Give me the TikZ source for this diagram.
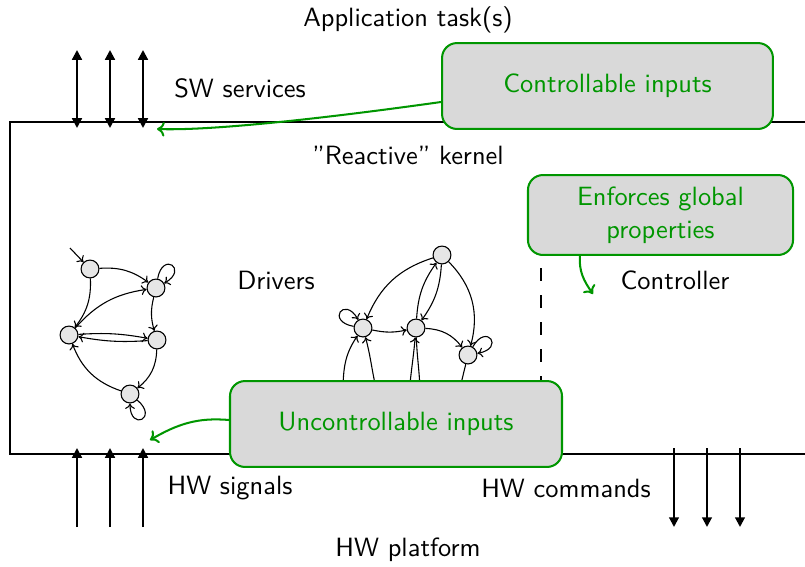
\documentclass[tikz,border=0pt]{standalone}
\usetikzlibrary{arrows.meta,positioning}
\definecolor{boxgreen}{RGB}{0,150,0}
\definecolor{boxfill}{RGB}{217,217,217}
\definecolor{statefill}{RGB}{230,230,230}
\begin{document}
\begin{tikzpicture}[
  x=0.369pt, y=0.369pt,
  font=\sffamily\fontsize{9.75}{12.2}\selectfont,
  label/.style={inner sep=0pt, anchor=center},
  frame/.style={line width=0.75pt},
  signal/.style={line width=0.75pt, -{Triangle[length=3.6pt,width=3.6pt]}},
  service/.style={line width=0.75pt, {Triangle[length=3.6pt,width=3.6pt]}-{Triangle[length=3.6pt,width=3.6pt]}},
  callout/.style={draw=boxgreen, line width=0.75pt, fill=boxfill, rounded corners=5.5pt,
                  text=boxgreen, align=center, inner sep=0pt},
  pointer/.style={draw=boxgreen, line width=0.75pt, -{To[length=2.8pt,width=5.4pt]}},
  state/.style={circle, draw, line width=0.4pt, fill=statefill, minimum size=6.6pt, inner sep=0pt},
  trans/.style={line width=0.4pt, -{To[length=2pt,width=3.6pt]}},
  selfloop/.style={trans, looseness=9},
]
\useasboundingbox (0,0) rectangle (805,566);

% kernel frame, open to the right
\draw[frame] (830,444) -- (10,444) -- (10,112) -- (830,112);

% texts
\node[label] (app)    at (408,546) {Application task(s)};
\node[label] (sw)     at (240,478) {SW services};
\node[label] (kern)   at (408,411) {''Reactive'' kernel};
\node[label] (drv)    at (276,286) {Drivers};
\node[label] (ctl)    at (675,286) {Controller};
\node[label] (hws)    at (230,78)  {HW signals};
\node[label] (hwc)    at (566,78)  {HW commands};
\node[label] (hwp)    at (408,16)  {HW platform};

% SW service calls
\foreach \i/\x in {1/77,2/110,3/143} {
  \coordinate (su\i) at (\x,516);
  \coordinate (sd\i) at (\x,438);
  \draw[service] (sd\i) -- (su\i);
}
% HW signals in, HW commands out
\foreach \i/\x in {1/77,2/110,3/143} {
  \coordinate (hi\i) at (\x,39);
  \coordinate (ht\i) at (\x,118);
  \draw[signal] (hi\i) -- (ht\i);
}
\foreach \i/\x in {1/674,2/707,3/740} {
  \coordinate (cs\i) at (\x,118);
  \coordinate (ce\i) at (\x,39);
  \draw[signal] (cs\i) -- (ce\i);
}

% driver automaton, left
\node[state] (a) at (90,297) {};
\node[state] (b) at (156,278) {};
\node[state] (c) at (69,231) {};
\node[state] (d) at (157,226) {};
\node[state] (e) at (130,172) {};
\coordinate (init) at (70,318);
\draw[trans] (init) -- (a);
\draw[trans] (a) to[bend left=20] (b);
\draw[trans] (b) to[out=80,in=30,selfloop] (b);
\draw[trans] (a) to[bend left=20] (c);
\draw[trans] (c) to[bend left=20] (b);
\draw[trans] (c) to[bend left=7] (d);
\draw[trans] (d) to[bend left=7] (c);
\draw[trans] (b) to[bend right=15] (d);
\draw[trans] (d) to[bend left=25] (e);
\draw[trans] (e) to[bend left=25] (c);
\draw[trans] (e) to[out=-40,in=-90,selfloop] (e);

% driver automaton, right
\node[state] (p) at (442,311) {};
\node[state] (q) at (363,238) {};
\node[state] (r) at (416,238) {};
\node[state] (s) at (468,211) {};
\draw[trans] (p) to[bend right=25] (q);
\draw[trans] (q) to[out=170,in=120,selfloop] (q);
\draw[trans] (q) to[bend right=12] (r);
\draw[trans] (r) to[bend left=16] (p);
\draw[trans] (p) to[bend left=16] (r);
\draw[trans] (p) to[bend left=30] (s);
\draw[trans] (r) to[bend left=25] (s);
\draw[trans] (s) to[out=60,in=10,selfloop] (s);
\coordinate (q1) at (343,170);
\coordinate (q2) at (378,170);
\coordinate (r1) at (409,170);
\coordinate (r2) at (420,170);
\coordinate (s1) at (458,170);
\draw[trans] (q1) to[out=90,in=235] (q);
\draw[trans] (q2) to[out=105,in=-75] (q);
\draw[trans] (r1) to[out=86,in=-95] (r);
\draw[line width=0.4pt] (r) to[out=-88,in=90] (r2);
\draw[line width=0.4pt] (s) -- (s1);

% controller boundary
\coordinate (dtop) at (541,298);
\coordinate (dbot) at (541,180);
\draw[line width=0.75pt, dash pattern=on 4.8pt off 5.2pt] (dtop) -- (dbot);

% callouts
\node[callout, minimum width=122.1pt, minimum height=31.7pt] (cin) at (607.5,480) {Controllable inputs};
\node[callout, minimum width=97.8pt, minimum height=29.5pt] (glob) at (660.5,351) {Enforces global\\properties};
\node[callout, minimum width=122.5pt, minimum height=31.7pt] (uin) at (396,142) {Uncontrollable inputs};

\coordinate (cinTip) at (157,437);
\coordinate (globTip) at (593,272);
\coordinate (uinTip) at (150,126);
\draw[pointer] (cin.west |- 0,464) to[out=188,in=-2,looseness=0.6] (cinTip);
\draw[pointer] (580,311) to[out=-95,in=125] (globTip);
\draw[pointer] (uin.west |- 0,146) to[out=175,in=30] (uinTip);
\end{tikzpicture}
\end{document}
